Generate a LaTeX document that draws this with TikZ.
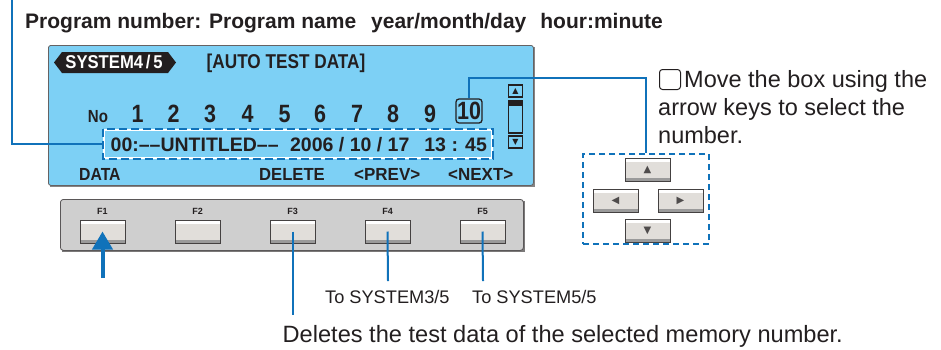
\documentclass[tikz,border=0pt]{standalone}
\usepackage{fontspec}
\setmainfont{Liberation Sans}
\newfontfamily\dvs{DejaVu Sans}
\usetikzlibrary{arrows.meta,calc}
\definecolor{lcd}{HTML}{7DD0F5}
\definecolor{lblue}{HTML}{1072BA}
\definecolor{ink}{HTML}{231F20}
\definecolor{panel}{HTML}{CFCFCF}
\definecolor{keyface}{HTML}{E1DEDA}
\definecolor{keyshade}{HTML}{9A9A9A}
\newcommand\cnd[2][0.86]{\scalebox{#1}[1]{#2}}
\begin{document}
\begin{tikzpicture}[x=1pt,y=-1pt,
  lcdtxt/.style={inner sep=0pt, text=ink, font=\bfseries\fontsize{17.5}{20}\selectfont},
  numtxt/.style={inner sep=0pt, text=ink, anchor=base, font=\bfseries\fontsize{25}{28}\selectfont},
  conn/.style={draw=lblue, line width=2pt},
  fkey/.style={draw=ink!85, line width=0.8pt, fill=keyface, inner sep=0pt,
    minimum width=45pt, minimum height=23pt,
    path picture={\fill[white] (path picture bounding box.north west) rectangle ([yshift=-3.5pt]path picture bounding box.north east);
      \fill[keyshade] (path picture bounding box.south west) rectangle ([yshift=3pt]path picture bounding box.south east);}},
  flabel/.style={inner sep=0pt, text=ink, font=\bfseries\fontsize{9}{10}\selectfont},
  plain/.style={inner sep=0pt, text=ink},
  sbox/.style={draw=ink, line width=1.2pt, fill=lcd, inner sep=0pt},
  glyph/.style={inner sep=0pt, font=\dvs\fontsize{10}{10}\selectfont, text=ink!80}
]
\useasboundingbox (0,0) rectangle (941,349);

% title
\node[plain, anchor=base west, font=\bfseries\fontsize{21}{24}\selectfont] (title) at (25,28)
  {Program number: Program name\hspace{15pt}year/month/day\hspace{14pt}hour:minute};

% LCD panel
\fill[ink!55] (49.5,46.5) rectangle (534.5,186.5);
\node[draw=ink!70, line width=0.8pt, fill=lcd, rounded corners=2.5pt, anchor=north west,
  minimum width=485pt, minimum height=140pt, inner sep=0pt] (lcd) at (48,45) {};

% tag
\fill[ink] (54,62.5) -- (62,52) -- (168,52) -- (176,62.5) -- (168,73) -- (62,73) -- cycle;
\node[inner sep=0pt, text=white, anchor=base, font=\bfseries\fontsize{18.5}{20}\selectfont] (tag) at (114,68) {\cnd[0.9]{SYSTEM4\,/\,5}};
\node[lcdtxt, anchor=base, font=\bfseries\fontsize{20}{22}\selectfont] (head) at (286,68) {\cnd{[AUTO TEST DATA]}};

% numbers
\node[lcdtxt, anchor=base] (no) at (98,122) {\cnd{No}};
\foreach \n/\x in {1/137.5,2/173.5,3/210,4/247.5,5/284.5,6/320,7/357,8/393,9/430}
  \node[numtxt] (n\n) at (\x,122) {\cnd{\n}};
\node[numtxt, draw=ink, line width=1.3pt, rounded corners=3pt, minimum width=26pt, minimum height=24pt, anchor=center, inner sep=0pt] (sel) at (469,111) {\cnd{10}};

% scrollbar
\node[sbox, minimum width=14pt, minimum height=12pt] (sup) at (515.5,91) {};
\node[inner sep=0pt, font=\dvs\fontsize{8}{8}\selectfont, text=ink] at (sup.center) {▲};
\node[sbox, minimum width=14pt, minimum height=32pt,
  path picture={\fill[ink] (path picture bounding box.north west) rectangle ([yshift=-5pt]path picture bounding box.north east);}] (sbar) at (515.5,117) {};
\node[sbox, minimum width=14pt, minimum height=12pt] (sdn) at (515.5,142) {};
\node[inner sep=0pt, font=\dvs\fontsize{8}{8}\selectfont, text=ink] at (sdn.center) {▼};

% data line
\node[draw=white, line width=2pt, minimum width=388pt, minimum height=28pt, inner sep=0pt] (databox) at (297.5,143.5) {};
\draw[draw=lblue, line width=2pt, dash pattern=on 8pt off 4pt] (databox.north west) rectangle (databox.south east);
\node[lcdtxt, anchor=base west, font=\bfseries\fontsize{19.5}{22}\selectfont] (data) at (110.5,151.5)
  {00:––UNTITLED––\hspace{11.5pt}2006 / 10 / 17\hspace{15pt}13 : 45};

% soft key labels
\node[lcdtxt, anchor=base west] (ldata) at (79,180.5) {\cnd[0.9]{DATA}};
\node[lcdtxt, anchor=base west] (ldel) at (259,180.5) {\cnd[0.95]{DELETE}};
\node[lcdtxt, anchor=base west] (lprev) at (354,180.5) {\cnd[0.97]{<PREV>}};
\node[lcdtxt, anchor=base west] (lnext) at (448,180.5) {\cnd[0.97]{<NEXT>}};

% function key panel
\fill[ink!60] (61.5,200.5) rectangle (524.5,251.5);
\node[draw=ink!75, line width=0.8pt, fill=panel, rounded corners=3pt, anchor=north west,
  minimum width=463pt, minimum height=51pt, inner sep=0pt] (fpanel) at (60,199) {};
\foreach \i/\x in {1/102.5,2/197.5,3/292.5,4/387.5,5/482.5}{
  \node[flabel, anchor=base] (fl\i) at (\x,214) {F\i};
  \node[fkey] (k\i) at (\x,231.5) {};
}

% arrow key cluster
\node[draw=lblue, line width=1.6pt, dash pattern=on 6pt off 4pt, minimum width=126pt, minimum height=90pt, inner sep=0pt] (keysbox) at (646,199) {};
\node[fkey] (kup) at (647.5,169.5) {};
\node[fkey] (kleft) at (615.5,200.5) {};
\node[fkey] (kright) at (680.5,200.5) {};
\node[fkey] (kdown) at (647.5,230.5) {};
\foreach \k/\s in {kup/▲,kleft/◀,kright/▶,kdown/▼}
  \node[glyph] at (\k.center) {\s};

% right note
\node[draw=ink, line width=1pt, rounded corners=3pt, minimum width=21pt, minimum height=20pt, inner sep=0pt] (boxsym) at (670,79.5) {};
\node[plain, anchor=base west, font=\fontsize{23.5}{28}\selectfont] (note1) at (684,87) {Move the box using the};
\node[plain, anchor=base west, font=\fontsize{23.5}{28}\selectfont] (note2) at (658,115.5) {arrow keys to select the};
\node[plain, anchor=base west, font=\fontsize{23.5}{28}\selectfont] (note3) at (658,143.5) {number.};

% bottom notes
\node[plain, anchor=base west, font=\fontsize{18.2}{20}\selectfont] (to3) at (325,303) {To SYSTEM3/5};
\node[plain, anchor=base west, font=\fontsize{18.2}{20}\selectfont] (to5) at (472,303) {To SYSTEM5/5};
\node[plain, anchor=base west, font=\fontsize{23.6}{26}\selectfont] (del) at (282.5,342) {Deletes the test data of the selected memory number.};

% connectors
\coordinate (ltop) at (12,0);
\draw[conn] (databox.west) -| (ltop);
\coordinate (rtop) at (469,78);
\draw[conn] (sel.north) -- (rtop) -| (keysbox.north);
\coordinate (d3) at (292.5,315);
\coordinate (d4) at (388,281);
\coordinate (d5) at (483,281);
\draw[conn] (k3.center) -- (d3);
\draw[conn] (k4.center) -- (d4);
\draw[conn] (k5.center) -- (d5);
\coordinate (a1) at (102.5,278);
\draw[draw=lblue, line width=4pt, -{Triangle[width=20pt,length=18pt]}] (a1) -- (k1.center);
\end{tikzpicture}
\end{document}
